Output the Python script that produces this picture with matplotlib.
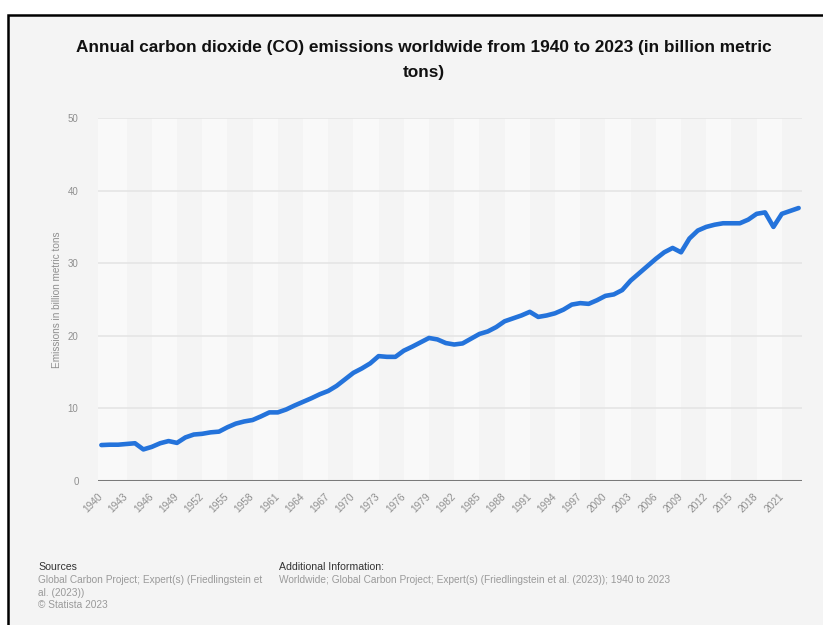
import numpy as np
import matplotlib
matplotlib.use('Agg')
import matplotlib.pyplot as plt
from matplotlib.patches import Rectangle

# data (billion metric tons)
years = list(range(1940, 2024))
emissions = [
    4.95, 5.0, 5.0, 5.1, 5.2, 4.35, 4.7, 5.2, 5.5, 5.25,   # 1940-1949
    6.0, 6.4, 6.5, 6.7, 6.8, 7.4, 7.9, 8.2, 8.4, 8.9,      # 1950-1959
    9.45, 9.45, 9.85, 10.4, 10.9, 11.4, 11.95, 12.4, 13.1, 14.0,  # 1960-1969
    14.9, 15.5, 16.2, 17.2, 17.1, 17.1, 17.95, 18.5, 19.1, 19.7,  # 1970-1979
    19.5, 19.0, 18.8, 18.95, 19.6, 20.25, 20.6, 21.2, 22.0, 22.4,  # 1980-1989
    22.8, 23.3, 22.6, 22.8, 23.1, 23.6, 24.3, 24.5, 24.4, 24.9,    # 1990-1999
    25.5, 25.7, 26.3, 27.6, 28.6, 29.6, 30.6, 31.5, 32.1, 31.5,    # 2000-2009
    33.4, 34.5, 35.0, 35.3, 35.5, 35.5, 35.5, 36.0, 36.8, 37.0,    # 2010-2019
    35.0, 36.8, 37.2, 37.6,                                        # 2020-2023
]
tick_years = list(range(1940, 2022, 3))
y_ticks = [0, 10, 20, 30, 40, 50]

title = ("Annual carbon dioxide (CO) emissions worldwide from 1940 to 2023 "
         "(in billion metric\ntons)")
y_label = "Emissions in billion metric tons"

sans = ['Liberation Sans', 'DejaVu Sans']
W, H = 823, 625

fig = plt.figure(figsize=(W / 100, H / 100), dpi=100, facecolor='white')

# framed grey card, left and top edges visible
card = Rectangle((8 / W, -0.1), 1.2, (H - 15) / H + 0.1, transform=fig.transFigure,
                 facecolor='#f4f4f4', edgecolor='black', linewidth=1.8, zorder=-5)
fig.patches.append(card)

fig.text(424 / W, 1 - 60 / H, title, ha='center', va='center', fontsize=12.4,
         fontweight='bold', family=sans, color='#111111', linespacing=1.8)

ax = fig.add_axes([98 / W, (H - 481) / H, 704 / W, (481 - 118) / H])
ax.set_facecolor('#f4f4f4')
ax.set_xlim(1939.6, 2023.4)
ax.set_ylim(0, 50)

# alternating column bands, one per tick interval
for i, t in enumerate(tick_years):
    if i % 2 == 0:
        lo = 1939.6 if i == 0 else t
        ax.axvspan(lo, t + 3, color='#f9f9f9', lw=0, zorder=0)

for v in y_ticks[1:]:
    ax.axhline(v, color='#e4e4e4', lw=1.1, zorder=1)
ax.axhline(0, color='#7a7a7a', lw=2.2, zorder=3)

ax.plot(years, emissions, color='#2473db', lw=3.3, solid_joinstyle='round',
        solid_capstyle='round', zorder=4)

for s in ax.spines.values():
    s.set_visible(False)

ax.set_yticks(y_ticks)
ax.set_yticklabels([str(v) for v in y_ticks], family=sans, fontsize=7, color='#8f8f8f')
ax.set_xticks(tick_years)
ax.set_xticklabels([str(t) for t in tick_years], family=sans, fontsize=7.3,
                   color='#8f8f8f', rotation=45, ha='right', va='center',
                   rotation_mode='anchor')
ax.tick_params(axis='y', length=0, pad=14)
ax.tick_params(axis='x', length=0, pad=10)
ax.set_ylabel(y_label, family=sans, fontsize=7.2, color='#8f8f8f', labelpad=4)

# footer
fig.text(38 / W, 1 - 567 / H, "Sources", family=sans, fontsize=7.6,
         color='#333333', va='center')
src_lines = ["Global Carbon Project; Expert(s) (Friedlingstein et", "al. (2023))",
             "© Statista 2023"]
for k, line in enumerate(src_lines):
    fig.text(38 / W, 1 - (580 + 12.5 * k) / H, line, family=sans, fontsize=7.3,
             color='#9a9a9a', va='center')
fig.text(279 / W, 1 - 567 / H, "Additional Information:", family=sans, fontsize=7.6,
         color='#333333', va='center')
fig.text(279 / W, 1 - 580 / H,
         "Worldwide; Global Carbon Project; Expert(s) (Friedlingstein et al. (2023)); 1940 to 2023",
         family=sans, fontsize=7.3, color='#9a9a9a', va='center')

fig.savefig('out.png', dpi=100, facecolor='white')
